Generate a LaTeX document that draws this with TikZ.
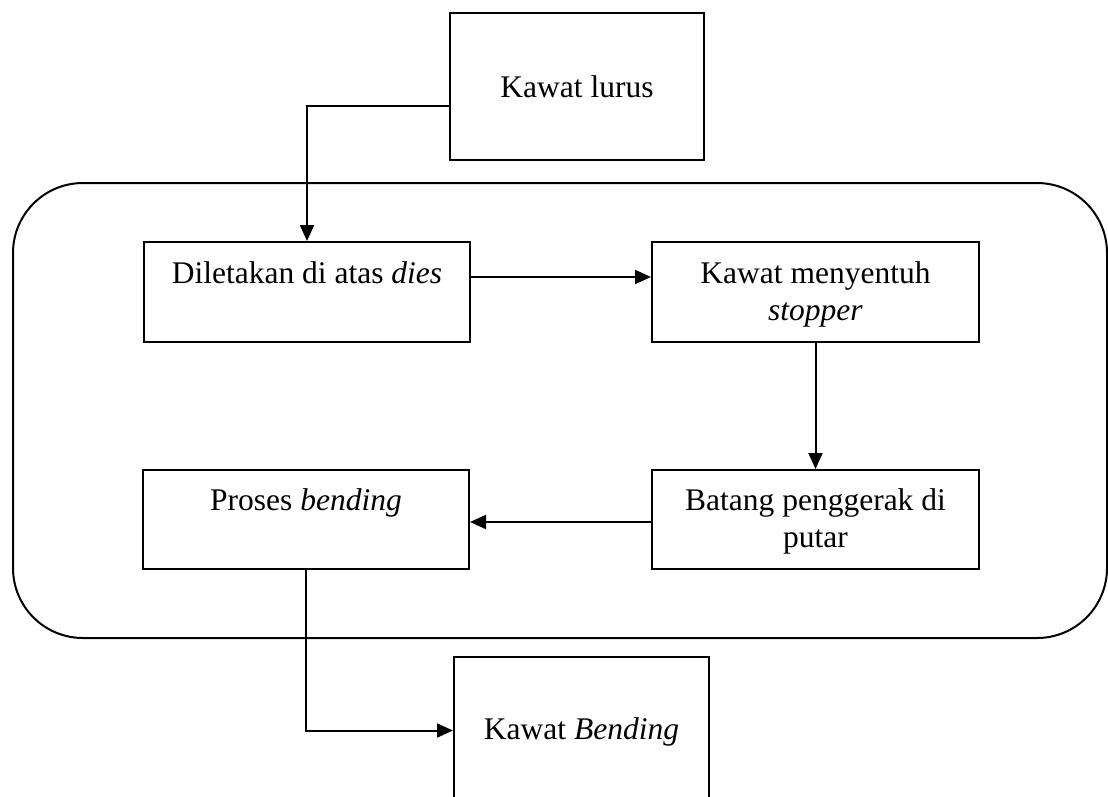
\documentclass[tikz,border=0pt]{standalone}
\usepackage{fontspec}
\setmainfont{Liberation Serif}
\usetikzlibrary{arrows.meta}
\begin{document}
\begin{tikzpicture}[x=1pt,y=-1pt,
  box/.style={draw, line width=2pt, inner xsep=0pt, inner ysep=0pt, anchor=north west, align=center, font=\fontsize{31.5}{37.5}\selectfont},
  arr/.style={line width=2pt, -{Triangle[length=16pt,width=14pt]}}]
\useasboundingbox (0,0) rectangle (1108,796);
\draw[line width=2pt, rounded corners=70pt] (13,183) rectangle (1107,638);
\node[box, minimum width=254pt, text height=84pt, text depth=63pt] (lurus) at (449,12) {Kawat lurus};
\node[box, minimum width=326pt, text height=41pt, text depth=59pt] (dies) at (143,241) {Diletakan di atas \textit{dies}};
\node[box, minimum width=327pt, text height=41pt, text depth=59pt] (stop) at (651,241) {\begin{tabular}[t]{@{}c@{}}Kawat menyentuh\\\textit{stopper}\end{tabular}};
\node[box, minimum width=327pt, text height=40pt, text depth=59pt] (batang) at (651,469) {\begin{tabular}[t]{@{}c@{}}Batang penggerak di\\putar\end{tabular}};
\node[box, minimum width=326pt, text height=40pt, text depth=59pt] (proses) at (142,469) {Proses \textit{bending}};
\node[box, minimum width=255pt, text height=82pt, text depth=65pt] (bending) at (453,656) {Kawat \textit{Bending}};
\draw[arr] ([yshift=-19.5pt]lurus.west) -| (dies.north);
\draw[arr] ([yshift=15pt]dies.east) -- ([yshift=15pt]stop.west);
\draw[arr] (stop.south) -- (stop.south |- batang.north);
\draw[arr] ([yshift=-2.5pt]batang.west) -- ([yshift=-2.5pt]proses.east);
\draw[arr] (proses.south) |- (bending.west);
\end{tikzpicture}
\end{document}
